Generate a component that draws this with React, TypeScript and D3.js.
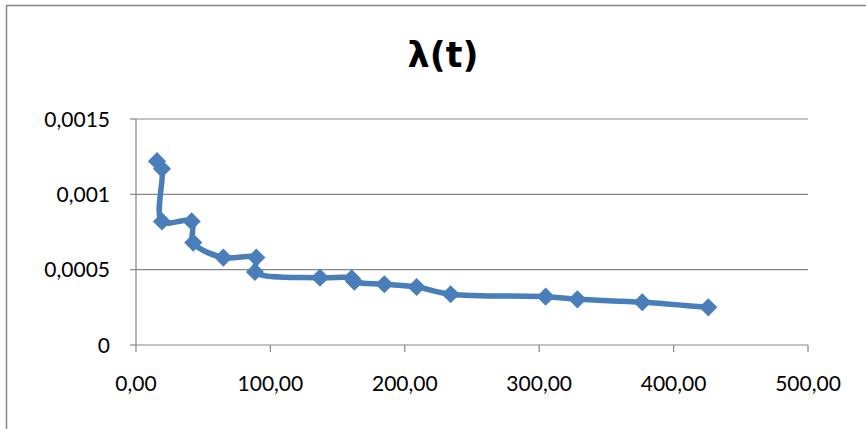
import React from "react";
import * as d3 from "d3";

// Failure rate λ(t) against time t
const tValues = [15.6, 19.3, 19.3, 41.4, 42.6, 65, 89.5, 88.5, 136.9, 160.5, 162.5, 184.8, 208.8, 234.1, 304.8, 328.4, 376.7, 425.8];
const lambdaValues = [0.00122, 0.00117, 0.00082, 0.00082, 0.00068, 0.00058, 0.00058, 0.000485, 0.000447, 0.000443, 0.00042, 0.000403, 0.000385, 0.000337, 0.000321, 0.000303, 0.000284, 0.00025];
const xTicks = [0, 100, 200, 300, 400, 500];
const yTicks = [0, 0.0005, 0.001, 0.0015];
const yTickLabels = ["0", "0,0005", "0,001", "0,0015"];
const title = "λ(t)";

const W = 866;
const H = 429;
const margin = { left: 136, right: 58, top: 119, bottom: 84 };
const axisColor = "#878787";
const seriesColor = "#4a7ebb";
const font = "Lato, 'Open Sans', sans-serif";

export default function App() {
  const x = d3.scaleLinear().domain([0, 500]).range([margin.left, W - margin.right]);
  const y = d3.scaleLinear().domain([0, 0.0015]).range([H - margin.bottom, margin.top]);
  const points = tValues.map((t, i) => [t, lambdaValues[i]] as [number, number]);
  const line = d3
    .line<[number, number]>()
    .x((d) => x(d[0]))
    .y((d) => y(d[1]))
    .curve(d3.curveCatmullRom.alpha(0.5));
  const marker = d3.symbol().type(d3.symbolSquare).size(165)();
  const fmtX = (v: number) => v.toFixed(2).replace(".", ",");

  return (
    <svg
      width={W}
      height={H}
      style={{ position: "absolute", left: 0, top: 0, background: "#fff" }}
    >
      <rect x={6.5} y={5.5} width={W + 10} height={H + 10} fill="#fff" stroke={axisColor} strokeWidth={1.5} />
      <text
        x={443}
        y={67}
        textAnchor="middle"
        fontFamily="'DejaVu Sans', sans-serif"
        fontWeight="bold"
        fontSize={35}
        fill="#000"
      >
        {title}
      </text>
      {/* horizontal gridlines */}
      {yTicks.map((v) => (
        <line key={"g" + v} x1={x(0)} x2={x(500)} y1={y(v)} y2={y(v)} stroke={axisColor} strokeWidth={1.2} />
      ))}
      {/* y axis */}
      <line x1={x(0)} x2={x(0)} y1={y(0)} y2={y(0.0015)} stroke={axisColor} strokeWidth={1.2} />
      {yTicks.map((v, i) => (
        <g key={"y" + v}>
          <line x1={x(0) - 6} x2={x(0)} y1={y(v)} y2={y(v)} stroke={axisColor} strokeWidth={1.2} />
          <text
            x={x(0) - 26}
            y={y(v)}
            dy="0.36em"
            textAnchor="end"
            fontFamily={font}
            fontSize={21}
            fill="#000"
          >
            {yTickLabels[i]}
          </text>
        </g>
      ))}
      {/* x axis */}
      {xTicks.map((v) => (
        <g key={"x" + v}>
          <line x1={x(v)} x2={x(v)} y1={y(0)} y2={y(0) + 7} stroke={axisColor} strokeWidth={1.2} />
          <text
            x={x(v)}
            y={y(0) + 46}
            textAnchor="middle"
            fontFamily={font}
            fontSize={21}
            fill="#000"
          >
            {fmtX(v)}
          </text>
        </g>
      ))}
      <path d={line(points) ?? ""} fill="none" stroke={seriesColor} strokeWidth={5.5} strokeLinejoin="round" />
      {points.map((p, i) => (
        <path
          key={"m" + i}
          d={marker ?? ""}
          transform={`translate(${x(p[0])},${y(p[1])}) rotate(45)`}
          fill={seriesColor}
        />
      ))}
    </svg>
  );
}
